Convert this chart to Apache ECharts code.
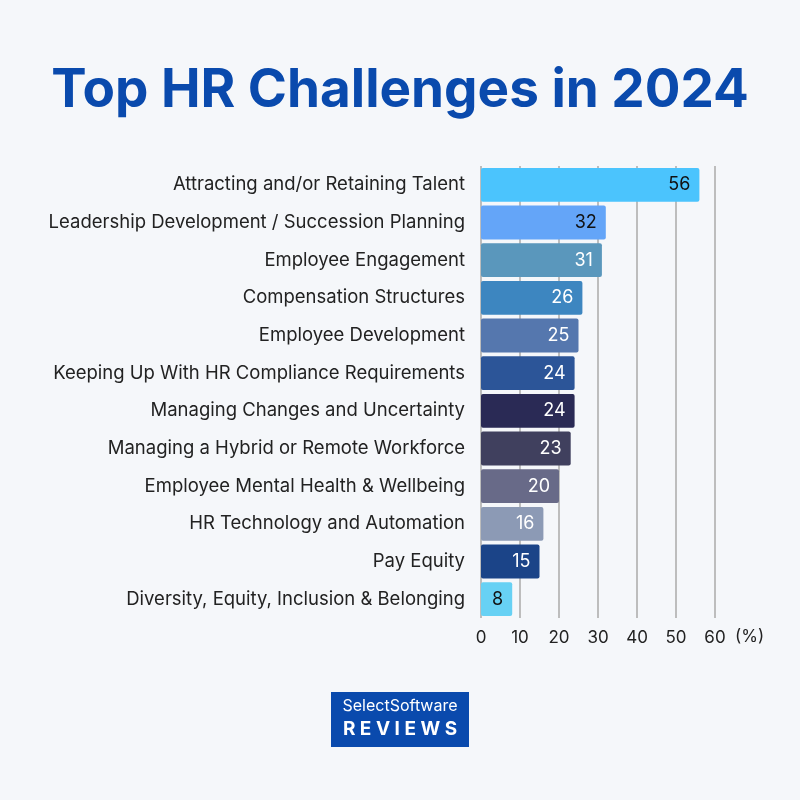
<!DOCTYPE html>
<html>
<head>
<meta charset="utf-8">
<script src="https://cdn.jsdelivr.net/npm/echarts@6/dist/echarts.min.js"></script>
<style>
  html, body { margin: 0; padding: 0; background: #f5f7fa; }
  #chart { width: 800px; height: 800px; }
</style>
</head>
<body>
<div id="chart"></div>
<script>
// categories, top to bottom
var categories = [
    'Attracting and/or Retaining Talent',
    'Leadership Development / Succession Planning',
    'Employee Engagement',
    'Compensation Structures',
    'Employee Development',
    'Keeping Up With HR Compliance Requirements',
    'Managing Changes and Uncertainty',
    'Managing a Hybrid or Remote Workforce',
    'Employee Mental Health & Wellbeing',
    'HR Technology and Automation',
    'Pay Equity',
    'Diversity, Equity, Inclusion & Belonging'
];
var values = [56, 32, 31, 26, 25, 24, 24, 23, 20, 16, 15, 8];
var barColors = ['#4bc4fd', '#64a5f8', '#5a97bc', '#3d86c0', '#5577ae', '#2c5598',
                 '#2a2a55', '#40405e', '#686a88', '#8c9ab5', '#1b4488', '#67d1f4'];
var labelColors = ['#111', '#111', '#fff', '#fff', '#fff', '#fff',
                   '#fff', '#fff', '#fff', '#fff', '#fff', '#111'];
var ticks = [0, 10, 20, 30, 40, 50, 60];

var myChart = echarts.init(document.getElementById('chart'));

var font = 'Inter, "Noto Sans", sans-serif';

var option = {
    backgroundColor: '#f5f7fa',
    textStyle: { fontFamily: font },
    title: {
        text: 'Top HR Challenges in 2024',
        left: 'center',
        top: 60,
        textStyle: { fontSize: 53, fontWeight: 'bold', color: '#0a4aad', fontFamily: font }
    },
    grid: { left: 481, right: 85, top: 166, bottom: 182, containLabel: false },
    xAxis: {
        type: 'value',
        min: ticks[0],
        max: ticks[ticks.length - 1],
        interval: 10,
        name: '(%)',
        nameLocation: 'end',
        nameGap: 20,
        nameTextStyle: { fontSize: 17, color: '#222', verticalAlign: 'top', padding: [10, 0, 0, 0] },
        axisLine: { show: false },
        axisTick: { show: false },
        axisLabel: { fontSize: 17, color: '#222', margin: 11 },
        splitLine: { lineStyle: { color: '#bdbdbd', width: 2 } }
    },
    yAxis: {
        type: 'category',
        inverse: true,
        data: categories,
        axisLine: { show: false },
        axisTick: { show: false },
        axisLabel: { fontSize: 18.5, color: '#222', margin: 16, padding: [0, 0, 3, 0] }
    },
    series: [{
        type: 'bar',
        barCategoryGap: '10%',
        data: values.map(function (v, i) {
            return {
                value: v,
                itemStyle: { color: barColors[i], borderRadius: 2 },
                label: { color: labelColors[i] }
            };
        }),
        label: {
            show: true,
            position: 'insideRight',
            distance: 9,
            fontSize: 18
        }
    }],
    graphic: [
        {
            type: 'rect',
            left: 331, top: 692,
            shape: { width: 138, height: 55 },
            style: { fill: '#0a4aad' }
        },
        {
            type: 'text',
            left: 'center', top: 698,
            style: { text: 'SelectSoftware', fill: '#fff', fontSize: 16, fontFamily: font }
        },
        {
            type: 'text',
            left: 'center', top: 720,
            style: { text: 'R E V I E W S', fill: '#fff', fontSize: 19, fontWeight: 'bold', fontFamily: font }
        }
    ]
};

myChart.setOption(option);
</script>
</body>
</html>
